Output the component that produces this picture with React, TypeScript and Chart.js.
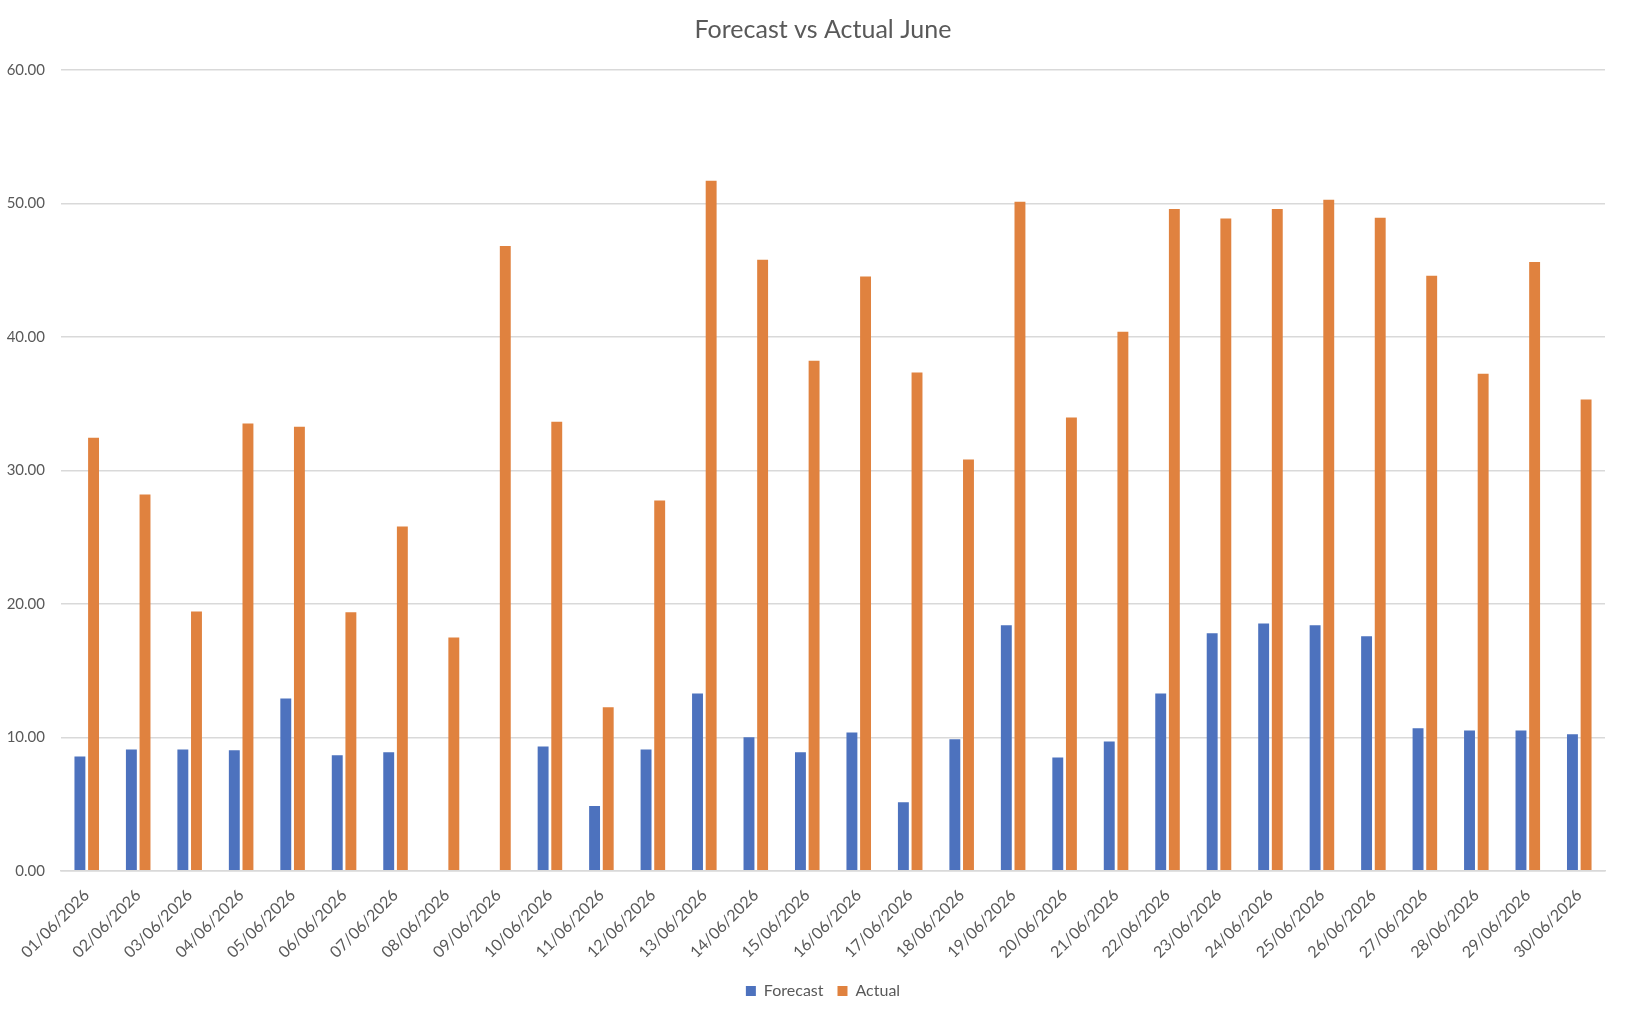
import { useEffect, useRef } from 'react';
import { Chart, registerables } from 'chart.js';

Chart.register(...registerables);

const dates = [
  '01/06/2026', '02/06/2026', '03/06/2026', '04/06/2026', '05/06/2026',
  '06/06/2026', '07/06/2026', '08/06/2026', '09/06/2026', '10/06/2026',
  '11/06/2026', '12/06/2026', '13/06/2026', '14/06/2026', '15/06/2026',
  '16/06/2026', '17/06/2026', '18/06/2026', '19/06/2026', '20/06/2026',
  '21/06/2026', '22/06/2026', '23/06/2026', '24/06/2026', '25/06/2026',
  '26/06/2026', '27/06/2026', '28/06/2026', '29/06/2026', '30/06/2026',
];

const forecast = [
  8.56, 9.09, 9.09, 9.03, 12.91, 8.65, 8.87, 0, 0, 9.31,
  4.84, 9.09, 13.28, 10.0, 8.87, 10.35, 5.12, 9.85, 18.39, 8.49,
  9.69, 13.28, 17.79, 18.52, 18.39, 17.57, 10.67, 10.51, 10.51, 10.23,
];

const actual = [
  32.45, 28.19, 19.43, 33.52, 33.27, 19.37, 25.8, 17.48, 46.82, 33.64,
  12.24, 27.75, 51.7, 45.78, 38.21, 44.52, 37.33, 30.81, 50.13, 33.96,
  40.39, 49.59, 48.87, 49.59, 50.28, 48.93, 44.58, 37.24, 45.62, 35.31,
];

const FONT = 'Lato, "Open Sans", sans-serif';
const TEXT = '#595959';
const GRID = '#D9D9D9';

export default function App() {
  const canvasRef = useRef<HTMLCanvasElement | null>(null);

  useEffect(() => {
    document.body.style.margin = '0';
    const ctx = canvasRef.current?.getContext('2d');
    if (!ctx) return;

    const chart = new Chart(ctx, {
      type: 'bar',
      data: {
        labels: dates,
        datasets: [
          {
            label: 'Forecast',
            data: forecast,
            backgroundColor: '#4D72BE',
            barPercentage: 0.8,
            categoryPercentage: 0.53,
          },
          {
            label: 'Actual',
            data: actual,
            backgroundColor: '#E0823F',
            barPercentage: 0.8,
            categoryPercentage: 0.53,
          },
        ],
      },
      options: {
        responsive: true,
        maintainAspectRatio: false,
        animation: false,
        layout: { padding: { left: 0, right: 0, top: 0, bottom: 7 } },
        plugins: {
          title: {
            display: true,
            text: 'Forecast vs Actual June',
            color: TEXT,
            font: { family: FONT, size: 25, weight: 'normal' },
            padding: { top: 15, bottom: 25 },
          },
          legend: {
            position: 'bottom',
            labels: {
              color: TEXT,
              font: { family: FONT, size: 16 },
              boxWidth: 10,
              boxHeight: 10,
              padding: 14,
            },
          },
          tooltip: { enabled: false },
        },
        scales: {
          x: {
            // keep the empty strip right of the plot, like Excel
            afterFit: (scale: any) => {
              scale.paddingRight = 41;
            },
            grid: { display: false },
            border: { display: true, color: GRID, width: 1.5 },
            ticks: {
              color: TEXT,
              font: { family: FONT, size: 16 },
              minRotation: 45,
              maxRotation: 45,
              autoSkip: false,
              padding: 7,
            },
          },
          y: {
            afterFit: (scale: any) => {
              scale.width = 61;
            },
            min: 0,
            max: 60,
            grid: { color: GRID, lineWidth: 1.5, drawTicks: false },
            border: { display: false },
            ticks: {
              stepSize: 10,
              color: TEXT,
              font: { family: FONT, size: 15 },
              padding: 16,
              callback: (v) => Number(v).toFixed(2),
            },
          },
        },
      },
    });

    return () => chart.destroy();
  }, []);

  return (
    <div style={{ width: 1646, height: 1016, position: 'relative' }}>
      <canvas ref={canvasRef} />
    </div>
  );
}
